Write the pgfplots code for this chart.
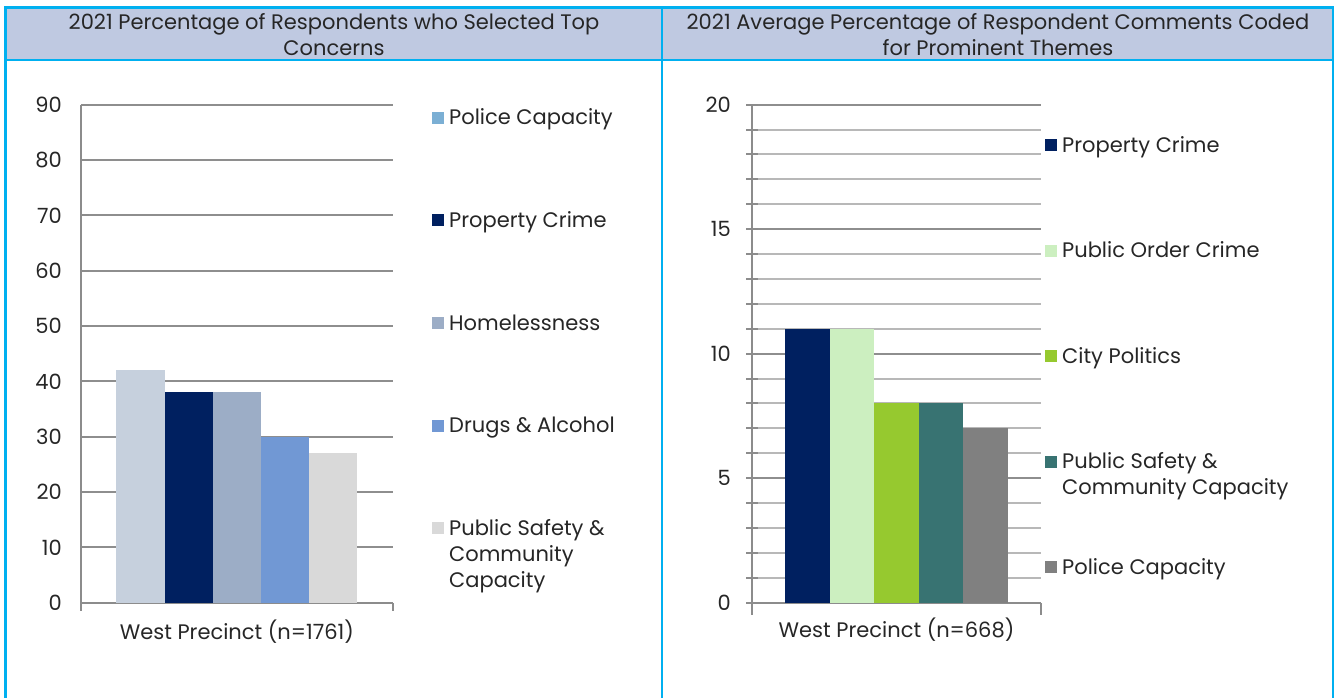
\documentclass[border=0pt]{standalone}
\usepackage{fontspec}
\setmainfont{Poppins}
\usepackage{pgfplots}
\pgfplotsset{compat=1.18}

\definecolor{frameblue}{HTML}{00B0F0}
\definecolor{headfill}{HTML}{BFC9E1}
\definecolor{axisgray}{HTML}{8C8C8C}
\definecolor{gridgray}{HTML}{8E8E8E}
\definecolor{gridlight}{HTML}{B8B8B8}
\definecolor{pcbar}{HTML}{C6D0DD}
\definecolor{pclegend}{HTML}{7BAFD4}
\definecolor{navy}{HTML}{002060}
\definecolor{homeless}{HTML}{9CADC6}
\definecolor{drugs}{HTML}{7198D4}
\definecolor{safety}{HTML}{D9D9D9}
\definecolor{order}{HTML}{CCEFC0}
\definecolor{politics}{HTML}{96C92F}
\definecolor{teal}{HTML}{387372}
\definecolor{police}{HTML}{808080}

\newcommand{\cf}{\fontsize{21}{26}\selectfont}

\pgfplotsset{
  panel/.style={
    scale only axis, height=498pt,
    xmin=-0.5, xmax=0.5, ymin=0,
    axis x line*=bottom, axis y line*=left,
    axis line style={-, draw=axisgray, line width=2pt},
    every inner x axis line/.append style={-},
    every outer x axis line/.append style={-},
    every inner y axis line/.append style={-},
    every outer y axis line/.append style={-},
    ybar=0pt,
    xtick={0}, x tick style={draw=none},
    extra x ticks={-0.5,0.5}, extra x tick labels={},
    extra x tick style={grid=none, tick align=outside,
      x tick style={draw=axisgray, line width=2pt}},
    major tick length=8pt,
    y tick style={draw=axisgray, line width=2pt},
    ymajorgrids,
    major grid style={draw=gridgray, line width=2pt},
    tick label style={font=\cf, text=black!85},
    xticklabel style={yshift=-2pt},
    /pgf/number format/assume math mode=true,
    legend cell align=left,
    legend style={draw=none, fill=none, inner sep=0pt, font=\cf,
      text=black!85, anchor=north west, column sep=5pt,
      nodes={inner sep=0pt, text height=14pt, text depth=4pt}},
    legend image code/.code={\fill[##1] (0pt,-4pt) rectangle (12pt,8pt);},
  },
}

\begin{document}
\cf
\begin{tikzpicture}
\path[use as bounding box] (0,0) rectangle (1338pt,698pt);
\fill[headfill] (5.5pt,638pt) rectangle (1333pt,690.5pt);
\draw[frameblue, line width=2.5pt] (4.25pt,690.5pt) -- (1334.25pt,690.5pt);
\draw[frameblue, line width=2.5pt] (5.5pt,638pt) -- (1333pt,638pt);
\draw[frameblue, line width=2.5pt] (5.5pt,0pt) -- (5.5pt,690.5pt);
\draw[frameblue, line width=2.5pt] (662pt,0pt) -- (662pt,690.5pt);
\draw[frameblue, line width=2.5pt] (1333pt,0pt) -- (1333pt,690.5pt);

\node[align=center, text=black!85] at (334pt,663.5pt)
  {2021 Percentage of Respondents who Selected Top\\Concerns};
\node[align=center, text=black!85] at (998pt,663.5pt)
  {2021 Average Percentage of Respondent Comments Coded\\for Prominent Themes};

% left panel
\begin{axis}[panel,
  at={(81pt,95.3pt)}, anchor=south west,
  width=311.7pt, ymax=90, ytick distance=10,
  yticklabel style={xshift=-12pt},
  bar width=48.2pt,
  xticklabels={West Precinct (n=1761)},
  legend style={at={(1.126,0.988)}, row sep=84.6pt},
]
\addplot[fill=pcbar, draw=none,
  legend image code/.code={\fill[pclegend] (0pt,-4pt) rectangle (12pt,8pt);}]
  coordinates {(0,42)};
\addlegendentry{Police Capacity}
\addplot[fill=navy, draw=none] coordinates {(0,38)};
\addlegendentry{Property Crime}
\addplot[fill=homeless, draw=none] coordinates {(0,38)};
\addlegendentry{Homelessness}
\addplot[fill=drugs, draw=none] coordinates {(0,30)};
\addlegendentry{Drugs \& Alcohol}
\addplot[fill=safety, draw=none] coordinates {(0,27)};
\addlegendentry{\begin{tabular}[t]{@{}l@{}}Public Safety \&\\Community\\Capacity\end{tabular}}
\end{axis}

% right panel
\begin{axis}[panel,
  at={(752pt,95.3pt)}, anchor=south west,
  width=289pt, ymax=20, ytick distance=5,
  minor y tick num=4, yminorgrids,
  minor grid style={draw=gridlight, line width=2pt},
  tick align=center, minor tick length=12pt, major tick length=12pt,
  minor y tick style={draw=axisgray, line width=2pt},
  yticklabel style={xshift=-8pt},
  bar width=44.6pt,
  xticklabels={West Precinct (n=668)},
  legend style={at={(1.0138,0.933)}, row sep=87.5pt},
]
\addplot[fill=navy, draw=none] coordinates {(0,11)};
\addlegendentry{Property Crime}
\addplot[fill=order, draw=none] coordinates {(0,11)};
\addlegendentry{Public Order Crime}
\addplot[fill=politics, draw=none] coordinates {(0,8)};
\addlegendentry{City Politics}
\addplot[fill=teal, draw=none] coordinates {(0,8)};
\addlegendentry{\begin{tabular}[t]{@{}l@{}}Public Safety \&\\Community Capacity\end{tabular}}
\addplot[fill=police, draw=none] coordinates {(0,7)};
\addlegendentry{Police Capacity}
\end{axis}
\end{tikzpicture}
\end{document}
